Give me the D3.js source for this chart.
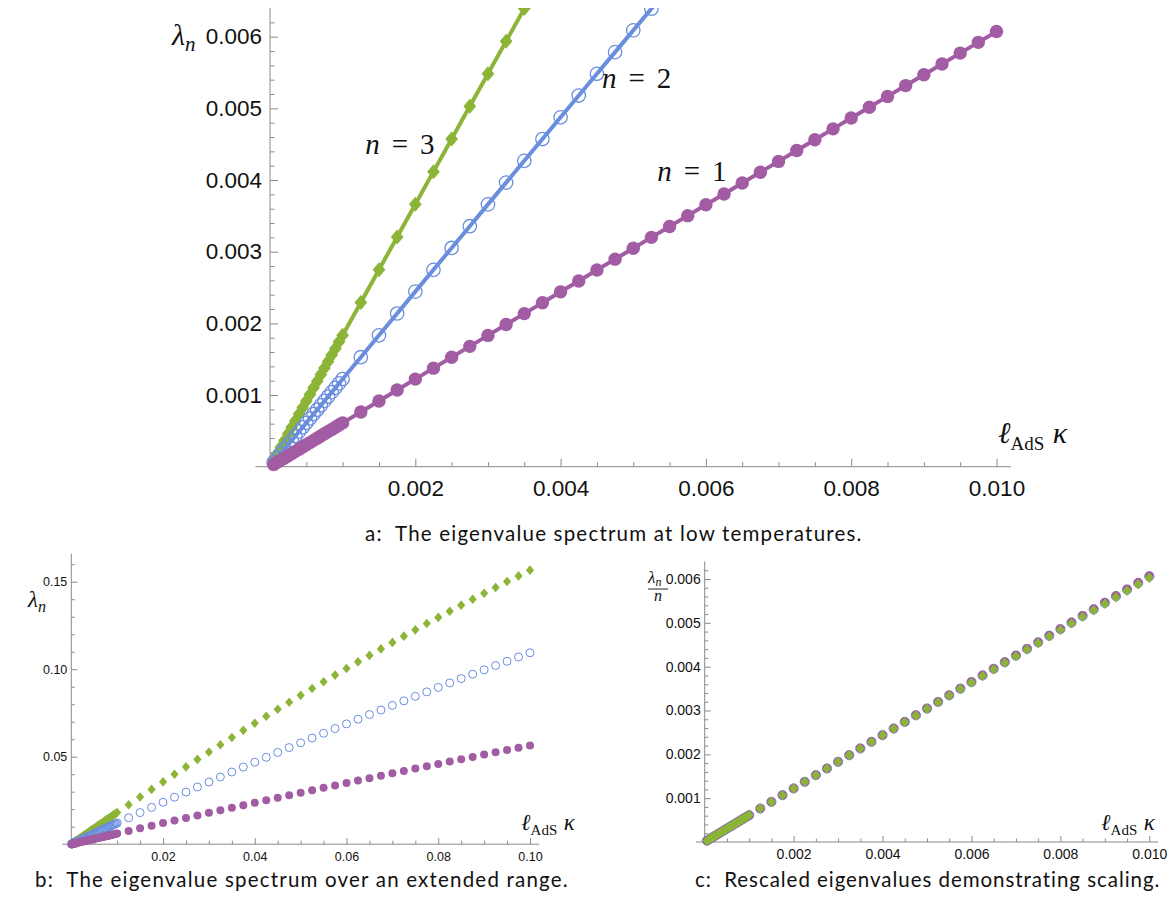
<!DOCTYPE html>
<html>
<head>
<meta charset="utf-8">
<script src="https://cdn.jsdelivr.net/npm/d3@7"></script>
<style>
  body { margin: 0; background: #fff; }
  .tick text { font-family: "Liberation Sans", Arial, sans-serif; fill: #111; }
  .math { font-family: "Liberation Serif", "DejaVu Serif", serif; fill: #111; }
  .caption { font-family: Lato, "Open Sans", sans-serif; font-size: 20.5px; letter-spacing: 1.2px; fill: #111; }
</style>
</head>
<body>
<svg id="chart" width="1170" height="907"></svg>
<script>
// sample points (ell_AdS * kappa)
const kappa = [
  0.00005, 0.0001, 0.00015, 0.0002, 0.00025, 0.0003, 0.00035, 0.0004, 0.00045, 0.0005,
  0.00055, 0.0006, 0.00065, 0.0007, 0.00075, 0.0008, 0.00085, 0.0009, 0.00095, 0.001,
  0.00125, 0.0015, 0.00175, 0.002, 0.00225, 0.0025, 0.00275, 0.003, 0.00325, 0.0035,
  0.00375, 0.004, 0.00425, 0.0045, 0.00475, 0.005, 0.00525, 0.0055, 0.00575, 0.006,
  0.00625, 0.0065, 0.00675, 0.007, 0.00725, 0.0075, 0.00775, 0.008, 0.00825, 0.0085,
  0.00875, 0.009, 0.00925, 0.0095, 0.00975, 0.01,
  0.0125, 0.015, 0.0175, 0.02, 0.0225, 0.025, 0.0275, 0.03, 0.0325, 0.035,
  0.0375, 0.04, 0.0425, 0.045, 0.0475, 0.05, 0.0525, 0.055, 0.0575, 0.06,
  0.0625, 0.065, 0.0675, 0.07, 0.0725, 0.075, 0.0775, 0.08, 0.0825, 0.085,
  0.0875, 0.09, 0.0925, 0.095, 0.0975, 0.1
]

// eigenvalues lambda_n
const lambda1 = [
  0.0000306, 0.0000612, 0.0000918, 0.0001224, 0.000153, 0.0001836, 0.0002142, 0.0002448, 0.0002754, 0.000306,
  0.0003366, 0.0003672, 0.0003978, 0.0004284, 0.000459, 0.0004896, 0.0005202, 0.0005507, 0.0005813, 0.0006115,
  0.000764, 0.000917, 0.00107, 0.001222, 0.001375, 0.001527, 0.001679, 0.001832, 0.001984, 0.002136,
  0.002288, 0.00244, 0.002592, 0.002744, 0.002896, 0.003048, 0.0032, 0.003351, 0.003503, 0.003655,
  0.003806, 0.003958, 0.004109, 0.00426, 0.004412, 0.004563, 0.004714, 0.004865, 0.005016, 0.005167,
  0.005318, 0.005469, 0.00562, 0.005771, 0.005921, 0.006072,
  0.007575, 0.009072, 0.01056, 0.01205, 0.01353, 0.015, 0.01647, 0.01793, 0.01938, 0.02083,
  0.02228, 0.02371, 0.02514, 0.02657, 0.02799, 0.0294, 0.03081, 0.03221, 0.0336, 0.03499,
  0.03638, 0.03775, 0.03912, 0.04049, 0.04185, 0.0432, 0.04455, 0.04589, 0.04722, 0.04855,
  0.04988, 0.05119, 0.0525, 0.05381, 0.05511, 0.0564
]

const lambda2 = [
  0.0000612, 0.0001224, 0.0001836, 0.0002448, 0.000306, 0.0003672, 0.0004284, 0.0004896, 0.0005508, 0.000612,
  0.0006732, 0.0007344, 0.0007956, 0.0008568, 0.000918, 0.0009791, 0.00104, 0.0011, 0.001162, 0.001223,
  0.001528, 0.001833, 0.002138, 0.002443, 0.002747, 0.003052, 0.003356, 0.00366, 0.003964, 0.004268,
  0.004572, 0.004875, 0.005179, 0.005482, 0.005785, 0.006088, 0.00639, 0.006693, 0.006995, 0.007297,
  0.007599, 0.007901, 0.008203, 0.008504, 0.008806, 0.009107, 0.009408, 0.009709, 0.01001, 0.01031,
  0.01061, 0.01091, 0.01121, 0.01151, 0.01181, 0.01211,
  0.0151, 0.01807, 0.02102, 0.02396, 0.02688, 0.02979, 0.03268, 0.03555, 0.03841, 0.04125,
  0.04407, 0.04688, 0.04967, 0.05245, 0.05521, 0.05795, 0.06068, 0.06339, 0.06608, 0.06876,
  0.07142, 0.07407, 0.0767, 0.07931, 0.08191, 0.08449, 0.08705, 0.0896, 0.09213, 0.09465,
  0.09715, 0.09963, 0.1021, 0.1045, 0.107, 0.1094
]

const lambda3 = [
  0.0000918, 0.0001836, 0.0002754, 0.0003672, 0.000459, 0.0005508, 0.0006426, 0.0007343, 0.0008261, 0.0009179,
  0.001009, 0.001101, 0.001193, 0.001285, 0.001376, 0.001468, 0.00156, 0.001651, 0.001743, 0.001833,
  0.002291, 0.002748, 0.003205, 0.003661, 0.004117, 0.004573, 0.005029, 0.005484, 0.005938, 0.006393,
  0.006847, 0.007301, 0.007754, 0.008207, 0.00866, 0.009113, 0.009565, 0.01002, 0.01047, 0.01092,
  0.01137, 0.01182, 0.01227, 0.01272, 0.01317, 0.01362, 0.01407, 0.01452, 0.01496, 0.01541,
  0.01586, 0.01631, 0.01675, 0.0172, 0.01764, 0.01809,
  0.02253, 0.02693, 0.0313, 0.03564, 0.03994, 0.04421, 0.04845, 0.05265, 0.05682, 0.06095,
  0.06505, 0.06912, 0.07315, 0.07715, 0.08112, 0.08505, 0.08895, 0.09281, 0.09664, 0.1004,
  0.1042, 0.1079, 0.1116, 0.1153, 0.1189, 0.1225, 0.1261, 0.1296, 0.1331, 0.1366,
  0.14, 0.1434, 0.1467, 0.1501, 0.1533, 0.1566
]

const smallXTicks = [0.002, 0.004, 0.006, 0.008, 0.010]
const smallYTicks = [0.001, 0.002, 0.003, 0.004, 0.005, 0.006]
const wideXTicks = [0.02, 0.04, 0.06, 0.08, 0.10]
const wideYTicks = [0.05, 0.10, 0.15]

const captions = [
  'a:  The eigenvalue spectrum at low temperatures.',
  'b:  The eigenvalue spectrum over an extended range.',
  'c:  Rescaled eigenvalues demonstrating scaling.'
]

const colors = { 1: '#a25ca4', 2: '#6a8ede', 3: '#8cb437' }
const axisColor = '#8a8a8a'

const svg = d3.select('#chart')

const series = [
  { n: 3, shape: 'diamond', values: lambda3 },
  { n: 2, shape: 'ring', values: lambda2 },
  { n: 1, shape: 'disc', values: lambda1 }
]

function pointsOf(s, maxK, scaleByN) {
  return kappa.map((k, i) => ({ k: k, v: scaleByN ? s.values[i] / s.n : s.values[i] }))
              .filter(d => d.k <= maxK + 1e-9)
}

function drawMarkers(g, data, s, x, y, size, ringWidth) {
  const c = colors[s.n]
  if (s.shape === 'diamond') {
    g.selectAll(null).data(data).enter().append('path')
      .attr('d', `M0,${-size}L${size * 0.85},0L0,${size}L${-size * 0.85},0Z`)
      .attr('transform', d => `translate(${x(d.k)},${y(d.v)})`)
      .attr('fill', c)
  } else {
    g.selectAll(null).data(data).enter().append('circle')
      .attr('cx', d => x(d.k))
      .attr('cy', d => y(d.v))
      .attr('r', size)
      .attr('fill', s.shape === 'disc' ? c : 'none')
      .attr('stroke', s.shape === 'ring' ? c : 'none')
      .attr('stroke-width', ringWidth)
  }
}

function drawAxes(x, y, o) {
  const g = svg.append('g')
  g.append('line')
    .attr('x1', x(o.xExt[0])).attr('x2', x(o.xExt[1]))
    .attr('y1', y(0)).attr('y2', y(0))
    .attr('stroke', axisColor)
  g.append('line')
    .attr('x1', x(0)).attr('x2', x(0))
    .attr('y1', y(0)).attr('y2', y(o.yTop))
    .attr('stroke', axisColor)

  const addAxis = (axis, transform) => {
    const a = g.append('g').attr('transform', transform).call(axis)
    a.select('.domain').remove()
    a.selectAll('.tick line').attr('stroke', axisColor)
    a.selectAll('.tick text').attr('font-size', o.fontSize).attr('fill', '#111')
  }
  addAxis(d3.axisBottom(x).tickValues(o.xMinor).tickSize(-o.minorLen).tickFormat(''), `translate(0,${y(0)})`)
  addAxis(d3.axisBottom(x).tickValues(o.xMajor).tickSize(-o.majorLen).tickPadding(o.xPad).tickFormat(d3.format(o.xFmt)), `translate(0,${y(0)})`)
  addAxis(d3.axisLeft(y).tickValues(o.yMinor).tickSize(-o.minorLen).tickFormat(''), `translate(${x(0)},0)`)
  addAxis(d3.axisLeft(y).tickValues(o.yMajor).tickSize(-o.majorLen).tickPadding(o.yPad).tickFormat(d3.format(o.yFmt)), `translate(${x(0)},0)`)
}

function kappaLabel(x0, y0, big, small) {
  const t = svg.append('text').attr('class', 'math').attr('x', x0).attr('y', y0)
  t.append('tspan').attr('font-size', big).attr('font-style', 'italic').text('\u2113')
  t.append('tspan').attr('font-size', small).attr('dy', big * 0.22).text('AdS')
  t.append('tspan').attr('font-size', big).attr('font-style', 'italic').attr('dx', big * 0.28).attr('dy', -big * 0.22).text('\u03ba')
}

function lambdaLabel(x0, y0, big, small) {
  const t = svg.append('text').attr('class', 'math').attr('x', x0).attr('y', y0)
  t.append('tspan').attr('font-size', big).attr('font-style', 'italic').text('\u03bb')
  t.append('tspan').attr('font-size', small).attr('font-style', 'italic').attr('dy', big * 0.2).text('n')
}

// ---------- a: low temperatures ----------
const xA = d3.scaleLinear().domain([0, 0.01]).range([270, 996.5])
const yA = d3.scaleLinear().domain([0, 0.006]).range([466.7, 36.7])

drawAxes(xA, yA, {
  xExt: [-0.0002, 0.0102], yTop: 0.0064,
  xMajor: smallXTicks, xMinor: d3.range(0.0005, 0.0101, 0.0005).filter(v => Math.abs(v / 0.002 - Math.round(v / 0.002)) > 1e-6),
  yMajor: smallYTicks, yMinor: d3.range(0.0002, 0.0063, 0.0002).filter(v => Math.abs(v / 0.001 - Math.round(v / 0.001)) > 1e-6),
  majorLen: 8, minorLen: 4.5, xPad: 13, yPad: 8, fontSize: 22.5, xFmt: '.3f', yFmt: '.3f'
})

svg.append('clipPath').attr('id', 'clipA').append('rect')
  .attr('x', 250).attr('y', yA(0.0064)).attr('width', 800).attr('height', 480)

const gA = svg.append('g').attr('clip-path', 'url(#clipA)')
series.forEach(s => {
  const data = pointsOf(s, 0.01, false)
  gA.append('path')
    .datum(data)
    .attr('fill', 'none')
    .attr('stroke', colors[s.n])
    .attr('stroke-width', 4)
    .attr('stroke-linejoin', 'round')
    .attr('d', d3.line().x(d => xA(d.k)).y(d => yA(d.v)))
  drawMarkers(gA, data, s, xA, yA, s.shape === 'diamond' ? 7.5 : 6.7, 1.3)
})

lambdaLabel(xA(0) - 98, yA(0.006) + 8, 30, 21)
kappaLabel(998, 443, 30, 19)

const nLabels = [
  { n: 3, k: 0.00131, v: 0.00436 },
  { n: 2, k: 0.00457, v: 0.00529 },
  { n: 1, k: 0.00533, v: 0.00398 }
]
nLabels.forEach(l => {
  const t = svg.append('text').attr('class', 'math').attr('font-size', 29)
    .attr('x', xA(l.k)).attr('y', yA(l.v))
  t.append('tspan').attr('font-style', 'italic').text('n')
  t.append('tspan').attr('dx', 12).text('=')
  t.append('tspan').attr('dx', 12).text(l.n)
})

svg.append('text').attr('class', 'caption').attr('x', 365).attr('y', 541).attr('xml:space', 'preserve').text(captions[0])

// ---------- b: extended range ----------
const xB = d3.scaleLinear().domain([0, 0.1]).range([71.3, 530])
const yB = d3.scaleLinear().domain([0, 0.15]).range([844.2, 581.7])

drawAxes(xB, yB, {
  xExt: [-0.002, 0.102], yTop: 0.166,
  xMajor: wideXTicks, xMinor: d3.range(0.005, 0.101, 0.005).filter(v => Math.abs(v / 0.02 - Math.round(v / 0.02)) > 1e-6),
  yMajor: wideYTicks, yMinor: d3.range(0.01, 0.165, 0.01).filter(v => Math.abs(v / 0.05 - Math.round(v / 0.05)) > 1e-6),
  majorLen: 6, minorLen: 3.5, xPad: 8, yPad: 4, fontSize: 12.5, xFmt: '.2f', yFmt: '.2f'
})

const gB = svg.append('g')
series.forEach(s => {
  drawMarkers(gB, pointsOf(s, 0.1, false), s, xB, yB, s.shape === 'diamond' ? 4.8 : 4, 1)
})

lambdaLabel(28, 607, 23, 16)
kappaLabel(521, 830, 23, 15)

svg.append('text').attr('class', 'caption').attr('x', 35).attr('y', 887).attr('xml:space', 'preserve').text(captions[1])

// ---------- c: rescaled ----------
const xC = d3.scaleLinear().domain([0, 0.01]).range([704.7, 1149.3])
const yC = d3.scaleLinear().domain([0, 0.006]).range([842, 579])

drawAxes(xC, yC, {
  xExt: [-0.0002, 0.0102], yTop: 0.0064,
  xMajor: smallXTicks, xMinor: d3.range(0.0005, 0.0101, 0.0005).filter(v => Math.abs(v / 0.002 - Math.round(v / 0.002)) > 1e-6),
  yMajor: smallYTicks, yMinor: d3.range(0.0002, 0.0063, 0.0002).filter(v => Math.abs(v / 0.001 - Math.round(v / 0.001)) > 1e-6),
  majorLen: 6, minorLen: 3.5, xPad: 7, yPad: 4, fontSize: 14, xFmt: '.3f', yFmt: '.3f'
})

const gC = svg.append('g')
const seriesC = [series[1], series[2], series[0]]
seriesC.forEach(s => {
  drawMarkers(gC, pointsOf(s, 0.01, true), s, xC, yC, s.shape === 'diamond' ? 5.2 : 4.6, 1)
})

// lambda_n / n
const frac = svg.append('g').attr('class', 'math')
const num = frac.append('text').attr('class', 'math').attr('x', 648).attr('y', 583)
num.append('tspan').attr('font-size', 17).attr('font-style', 'italic').text('\u03bb')
num.append('tspan').attr('font-size', 12).attr('font-style', 'italic').attr('dy', 3).text('n')
frac.append('line').attr('x1', 648).attr('x2', 668).attr('y1', 589).attr('y2', 589).attr('stroke', '#111').attr('stroke-width', 0.9)
frac.append('text').attr('class', 'math').attr('x', 654).attr('y', 601).attr('font-size', 16).attr('font-style', 'italic').text('n')

kappaLabel(1101, 830, 23, 15)

svg.append('text').attr('class', 'caption').attr('x', 695).attr('y', 887)
  .attr('letter-spacing', 0.95).style('letter-spacing', '0.95px')
  .attr('xml:space', 'preserve').text(captions[2])
</script>
</body>
</html>
